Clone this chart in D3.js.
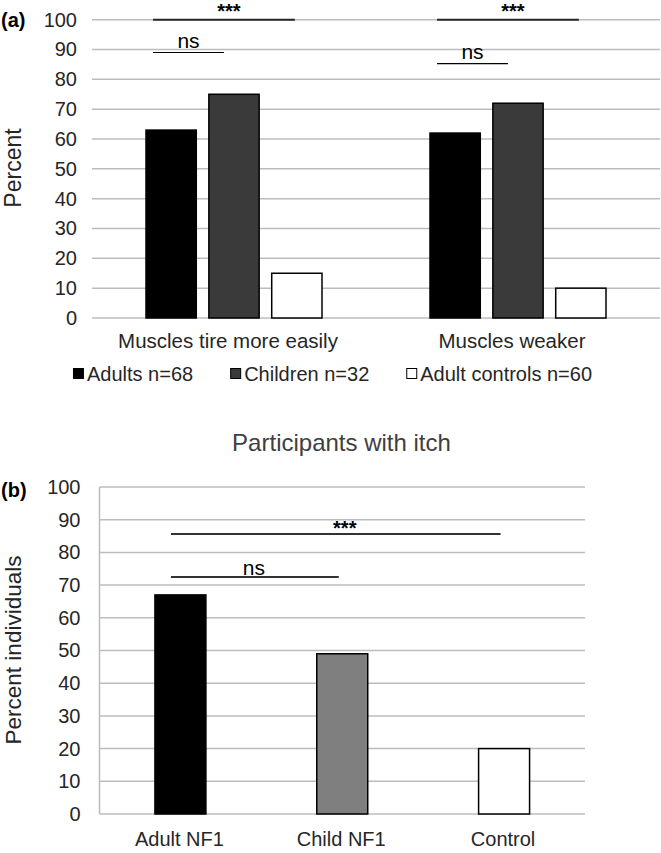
<!DOCTYPE html>
<html>
<head>
<meta charset="utf-8">
<script src="https://cdn.jsdelivr.net/npm/d3@7"></script>
<style>
  body { margin: 0; background: #fff; }
  text { font-family: "Liberation Sans", Arial, sans-serif; }
</style>
</head>
<body>
<div id="chart"></div>
<script>
// panel (a) data
const symptoms = ["Muscles tire more easily", "Muscles weaker"];
const groupsA = ["Adults n=68", "Children n=32", "Adult controls n=60"];
const adults = [63, 62];
const children = [75, 72];
const controlsA = [15, 10];
const ticksA = [0, 10, 20, 30, 40, 50, 60, 70, 80, 90, 100];
// significance brackets for (a): level in percent
const sigA = [
  { symptom: "Muscles tire more easily", label: "***", level: 100, to: "Adult controls n=60" },
  { symptom: "Muscles tire more easily", label: "ns", level: 89, to: "Children n=32" },
  { symptom: "Muscles weaker", label: "***", level: 100, to: "Adult controls n=60" },
  { symptom: "Muscles weaker", label: "ns", level: 85.3, to: "Children n=32" }
];

// panel (b) data
const itchGroups = ["Adult NF1", "Child NF1", "Control"];
const itchValues = [67, 49, 20];
const ticksB = [0, 10, 20, 30, 40, 50, 60, 70, 80, 90, 100];
const sigB = [
  { label: "***", level: 85.6, from: "Adult NF1", to: "Control" },
  { label: "ns", level: 72.5, from: "Adult NF1", to: "Child NF1" }
];

const W = 661, H = 853;
const svg = d3.select("#chart").append("svg")
  .attr("width", W).attr("height", H);

const ink = "#262626";
const gridCol = "#bcbcbc";

// ---------- panel (a) ----------
let yA = d3.scaleLinear().domain([0, 100]).range([318, 19.7]);
let xA = d3.scaleBand().domain(symptoms).range([92, 660]);
let xInner = d3.scaleBand().domain(groupsA).range([54, 230]).paddingInner(0.2);
let fillA = d3.scaleOrdinal().domain(groupsA).range(["#000000", "#3a3a3a", "#ffffff"]);

let gA = svg.append("g");

gA.selectAll(".gridA")
  .data(ticksA)
  .enter()
  .append("line")
  .attr("class", "gridA")
  .attr("x1", 92).attr("x2", 660)
  .attr("y1", d => yA(d)).attr("y2", d => yA(d))
  .attr("stroke", gridCol).attr("stroke-width", 1.5);

let yAxisA = gA.append("g")
  .attr("transform", "translate(92,0)")
  .call(d3.axisLeft(yA).tickValues(ticksA).tickSize(0).tickPadding(15));
yAxisA.select(".domain").remove();
yAxisA.selectAll("text")
  .attr("font-size", "20px").attr("fill", ink)
  .attr("font-family", '"Liberation Sans", Arial, sans-serif');

let rowsA = symptoms.map((s, i) => [
  { symptom: s, group: groupsA[0], value: adults[i] },
  { symptom: s, group: groupsA[1], value: children[i] },
  { symptom: s, group: groupsA[2], value: controlsA[i] }
]).flat();

gA.selectAll(".barA")
  .data(rowsA)
  .enter()
  .append("rect")
  .attr("class", "barA")
  .attr("x", d => xA(d.symptom) + xInner(d.group))
  .attr("width", xInner.bandwidth())
  .attr("y", d => yA(d.value))
  .attr("height", d => yA(0) - yA(d.value))
  .attr("fill", d => fillA(d.group))
  .attr("stroke", "#000").attr("stroke-width", 1.5);

// category labels
gA.selectAll(".catA")
  .data(symptoms)
  .enter()
  .append("text")
  .attr("class", "catA")
  .attr("x", d => xA(d) + xA.bandwidth() / 2 - 6)
  .attr("y", 348)
  .attr("text-anchor", "middle")
  .attr("font-size", "20.5px").attr("fill", ink)
  .text(d => d);

// significance lines (a)
sigA.forEach(s => {
  let left = xA(s.symptom) + xInner(groupsA[0]) + xInner.bandwidth() * 0.14;
  let right = xA(s.symptom) + xInner(s.to) + xInner.bandwidth() * (s.label === "ns" ? 0.3 : 0.46);
  let yy = yA(s.level);
  gA.append("line")
    .attr("x1", left).attr("x2", right)
    .attr("y1", yy).attr("y2", yy)
    .attr("stroke", s.label === "ns" ? "#000" : "#262626")
    .attr("stroke-width", s.label === "ns" ? 1.2 : 2);
  gA.append("text")
    .attr("x", (left + right) / 2 + (s.label === "ns" ? 0 : 5))
    .attr("y", s.label === "ns" ? yy - 5 : yy - 1.5)
    .attr("text-anchor", "middle")
    .attr("font-size", s.label === "ns" ? "21px" : "20px")
    .attr("font-weight", s.label === "ns" ? "normal" : "bold")
    .attr("fill", "#000")
    .text(s.label);
});

// y label
svg.append("text")
  .attr("transform", "translate(21,168) rotate(-90)")
  .attr("text-anchor", "middle")
  .attr("font-size", "23px").attr("fill", ink)
  .text("Percent");

svg.append("text")
  .attr("x", 1).attr("y", 27)
  .attr("font-size", "20px").attr("font-weight", "bold").attr("fill", "#000")
  .text("(a)");

// legend (a)
let legend = svg.append("g");
let lx = 0;
groupsA.forEach((gname, i) => {
  let item = legend.append("g").attr("transform", "translate(" + lx + ",0)");
  item.append("rect")
    .attr("x", 0.5).attr("y", -12.5)
    .attr("width", 10).attr("height", 10)
    .attr("fill", fillA(gname))
    .attr("stroke", "#000").attr("stroke-width", 1);
  let t = item.append("text")
    .attr("x", 14).attr("y", 0)
    .attr("font-size", "20px").attr("fill", ink)
    .text(gname);
  lx += 14 + t.node().getComputedTextLength() + 37;
});
lx -= 37;
legend.attr("transform", "translate(" + (332.5 - lx / 2) + ",381)");

// ---------- panel (b) ----------
let yB = d3.scaleLinear().domain([0, 100]).range([814, 487]);
let xB = d3.scaleBand().domain(itchGroups).range([99.5, 585])
  .paddingInner(0.685).paddingOuter(0.3425);
let fillB = d3.scaleOrdinal().domain(itchGroups).range(["#000000", "#7f7f7f", "#ffffff"]);

let gB = svg.append("g");

svg.append("text")
  .attr("x", 341.5).attr("y", 451)
  .attr("text-anchor", "middle")
  .attr("font-size", "24px").attr("fill", "#404040")
  .text("Participants with itch");

gB.selectAll(".gridB")
  .data(ticksB)
  .enter()
  .append("line")
  .attr("class", "gridB")
  .attr("x1", 99.5).attr("x2", 585)
  .attr("y1", d => yB(d)).attr("y2", d => yB(d))
  .attr("stroke", gridCol).attr("stroke-width", 1.5);

gB.append("line")
  .attr("x1", 99.5).attr("x2", 99.5)
  .attr("y1", yB(100)).attr("y2", yB(0))
  .attr("stroke", gridCol).attr("stroke-width", 1.5);

let yAxisB = gB.append("g")
  .attr("transform", "translate(99.5,0)")
  .call(d3.axisLeft(yB).tickValues(ticksB).tickSize(0).tickPadding(19));
yAxisB.select(".domain").remove();
yAxisB.selectAll("text")
  .attr("font-size", "20px").attr("fill", ink)
  .attr("font-family", '"Liberation Sans", Arial, sans-serif');

gB.selectAll(".barB")
  .data(itchGroups)
  .enter()
  .append("rect")
  .attr("class", "barB")
  .attr("x", d => xB(d))
  .attr("width", xB.bandwidth())
  .attr("y", (d, i) => yB(itchValues[i]))
  .attr("height", (d, i) => yB(0) - yB(itchValues[i]))
  .attr("fill", d => fillB(d))
  .attr("stroke", "#000").attr("stroke-width", 1.5);

gB.selectAll(".catB")
  .data(itchGroups)
  .enter()
  .append("text")
  .attr("class", "catB")
  .attr("x", d => xB(d) + xB.bandwidth() / 2 - 1)
  .attr("y", 846)
  .attr("text-anchor", "middle")
  .attr("font-size", "20px").attr("fill", ink)
  .text(d => d);

sigB.forEach(s => {
  let left = xB(s.from) + xB.bandwidth() / 2 - 9.5;
  let right = xB(s.to) + xB.bandwidth() / 2 - 3.5;
  let yy = yB(s.level);
  gB.append("line")
    .attr("x1", left).attr("x2", right)
    .attr("y1", yy).attr("y2", yy)
    .attr("stroke", "#333").attr("stroke-width", 2);
  gB.append("text")
    .attr("x", (left + right) / 2 + (s.label === "ns" ? -1 : 9))
    .attr("y", s.label === "ns" ? yy - 2 : yy + 1)
    .attr("text-anchor", "middle")
    .attr("font-size", s.label === "ns" ? "21px" : "20px")
    .attr("font-weight", s.label === "ns" ? "normal" : "bold")
    .attr("fill", "#000")
    .text(s.label);
});

svg.append("text")
  .attr("transform", "translate(21,650) rotate(-90)")
  .attr("text-anchor", "middle")
  .attr("font-size", "22.5px").attr("fill", ink)
  .text("Percent individuals");

svg.append("text")
  .attr("x", 1).attr("y", 497)
  .attr("font-size", "20px").attr("font-weight", "bold").attr("fill", "#000")
  .text("(b)");
</script>
</body>
</html>
